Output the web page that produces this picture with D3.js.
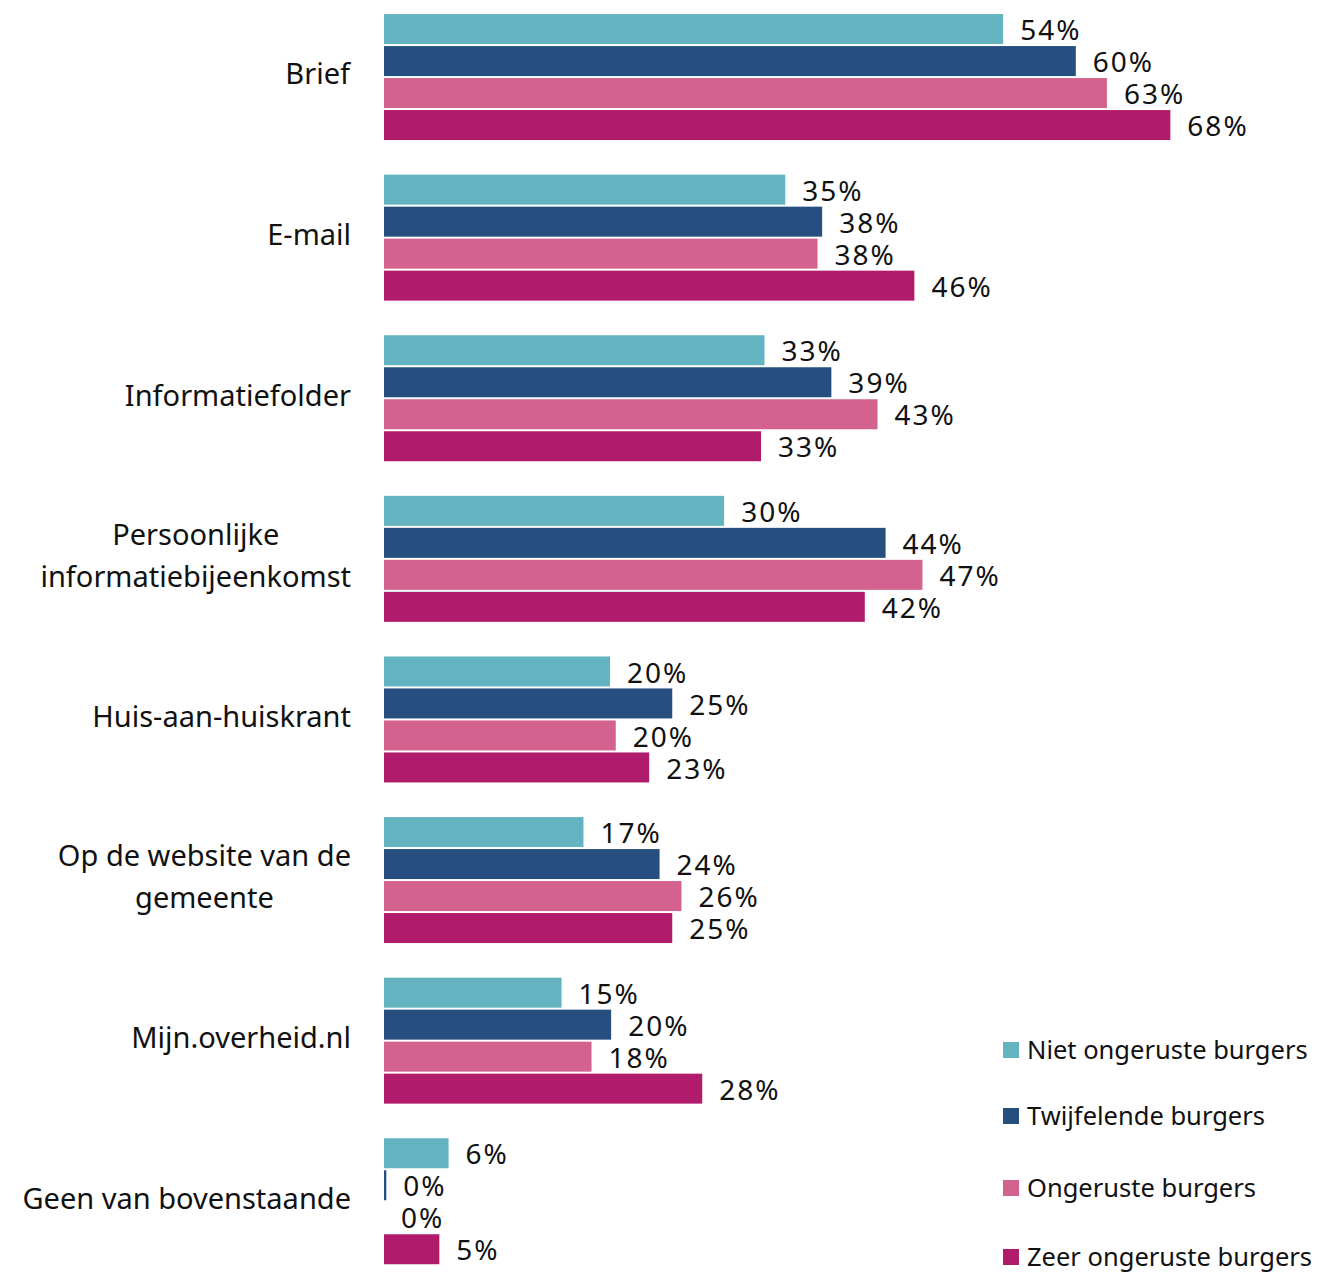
<!DOCTYPE html>
<html><head><meta charset="utf-8">
<script src="https://cdn.jsdelivr.net/npm/d3@7"></script>
<style>
html,body{margin:0;padding:0;background:#fff;}
text{font-family:"Noto Sans",sans-serif;fill:#111;}
</style></head>
<body>
<svg id="c" width="1318" height="1272"></svg>
<script>
const categories = [
  ["Brief"],
  ["E-mail"],
  ["Informatiefolder"],
  ["Persoonlijke", "informatiebijeenkomst"],
  ["Huis-aan-huiskrant"],
  ["Op de website van de", "gemeente"],
  ["Mijn.overheid.nl"],
  ["Geen van bovenstaande"]
];
const seriesNames = ["Niet ongeruste burgers", "Twijfelende burgers", "Ongeruste burgers", "Zeer ongeruste burgers"];
const seriesColors = ["#63b4c0", "#264f80", "#d3628e", "#b01c6b"];
const nietOngerust = [53.7, 34.8, 33.0, 29.5, 19.6, 17.3, 15.4, 5.6];
const twijfelend   = [60.0, 38.0, 38.8, 43.5, 25.0, 23.9, 19.7, 0.2];
const ongerust     = [62.7, 37.6, 42.8, 46.7, 20.1, 25.8, 18.0, 0.0];
const zeerOngerust = [68.2, 46.0, 32.7, 41.7, 23.0, 25.0, 27.6, 4.8];
const seriesValues = [nietOngerust, twijfelend, ongerust, zeerOngerust];

const svg = d3.select("#c");
const x = d3.scaleLinear().domain([0, 100]).range([384, 384 + 1153]);
const y = d3.scaleBand().domain(d3.range(categories.length)).range([-2, 1280.3]).paddingInner(0.2155).paddingOuter(0.1);
const ys = d3.scaleBand().domain(d3.range(seriesNames.length)).range([0, y.bandwidth()]).paddingInner(0.0625);

const groups = svg.selectAll("g.grp").data(categories).join("g")
  .attr("class", "grp")
  .attr("transform", (d, i) => `translate(0,${y(i)})`);

groups.each(function(cat, ci) {
  const g = d3.select(this);
  seriesValues.forEach((vals, si) => {
    const v = vals[ci];
    const w = x(v) - x(0);
    if (w > 0) {
      g.append("rect")
        .attr("x", x(0)).attr("y", ys(si))
        .attr("width", w).attr("height", ys.bandwidth())
        .attr("fill", seriesColors[si]);
    }
    g.append("text")
      .attr("x", x(v) + 17)
      .attr("y", ys(si) + ys.bandwidth() / 2 + 1)
      .attr("dy", "0.36em")
      .attr("font-size", 28)
      .attr("letter-spacing", "2px")
      .text(Math.round(v) + "%");
  });
  const lh = 42;
  const cy = y.bandwidth() / 2 - 3;
  const t = g.append("text")
    .attr("font-size", 29)
    .attr("text-anchor", "middle");
  cat.forEach((line, li) => {
    t.append("tspan")
      .attr("x", 0)
      .attr("y", cy + (li - (cat.length - 1) / 2) * lh)
      .attr("dy", "0.36em")
      .text(line);
  });
  const bb = t.node().getBBox();
  t.selectAll("tspan").attr("x", 351 - bb.width / 2);
});

const legendY = [1050, 1116, 1188, 1257];
const lg = svg.append("g");
seriesNames.forEach((n, i) => {
  lg.append("rect").attr("x", 1003).attr("y", legendY[i] - 8).attr("width", 16).attr("height", 16).attr("fill", seriesColors[i]);
  lg.append("text").attr("x", 1027).attr("y", legendY[i]).attr("dy", "0.36em").attr("font-size", 25.5).text(n);
});
</script>
</body></html>
